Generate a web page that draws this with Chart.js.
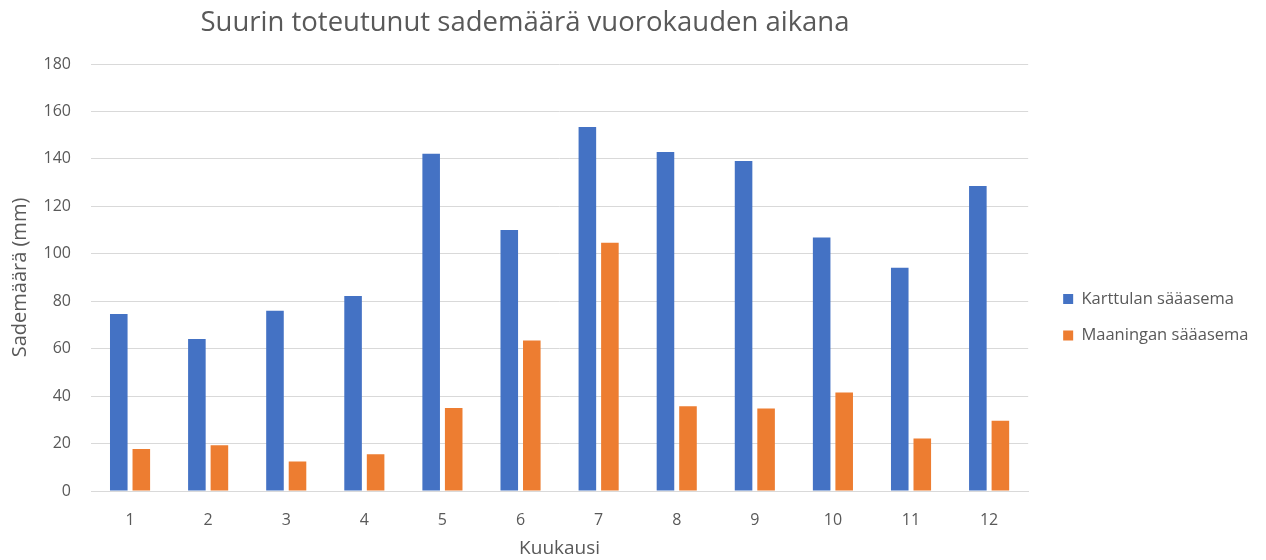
<!DOCTYPE html>
<html>
<head>
<meta charset="utf-8">
<script src="https://cdn.jsdelivr.net/npm/chart.js@4"></script>
<style>
    html, body { margin: 0; padding: 0; background: #fff; }
    #wrap { position: relative; width: 1266px; height: 560px; }
    #title {
        position: absolute; left: 0; top: 3px; width: 1050px;
        text-align: center; font-family: "Open Sans", sans-serif;
        font-size: 27.5px; line-height: 36px; color: #595959;
    }
</style>
</head>
<body>
<div id="wrap">
    <canvas id="chart" width="1266" height="560"></canvas>
    <div id="title">Suurin toteutunut sademäärä vuorokauden aikana</div>
</div>
<script>
var months = ['1', '2', '3', '4', '5', '6', '7', '8', '9', '10', '11', '12'];
var karttula = [74.6, 64.1, 76.0, 82.2, 142.2, 110.0, 153.4, 142.9, 139.1, 106.9, 94.1, 128.6];
var maaninka = [17.7, 19.3, 12.4, 15.5, 35.0, 63.4, 104.6, 35.7, 34.8, 41.5, 22.1, 29.6];
var seriesNames = ['Karttulan sääasema', 'Maaningan sääasema'];

var grey = '#595959';
var font = '"Open Sans", sans-serif';

new Chart(document.getElementById('chart'), {
    type: 'bar',
    data: {
        labels: months,
        datasets: [
            { label: seriesNames[0], data: karttula, backgroundColor: '#4472C4' },
            { label: seriesNames[1], data: maaninka, backgroundColor: '#ED7D31' }
        ]
    },
    options: {
        responsive: false,
        animation: false,
        layout: { padding: { top: 64, left: 4, right: 15, bottom: 0 } },
        datasets: { bar: { categoryPercentage: 0.577, barPercentage: 0.78 } },
        plugins: {
            legend: {
                position: 'right',
                // empty title only nudges the items down a little
                title: { display: true, text: '', font: { size: 2 }, padding: { top: 8, bottom: 0 } },
                labels: {
                    boxWidth: 10, boxHeight: 10, padding: 20,
                    color: grey, font: { family: font, size: 16.5 }
                }
            },
            tooltip: { enabled: false }
        },
        scales: {
            x: {
                grid: { display: false },
                border: { color: '#d9d9d9' },
                ticks: { color: grey, font: { family: font, size: 16 }, padding: 12 },
                title: { display: true, text: 'Kuukausi', color: grey, font: { family: font, size: 19 }, padding: { top: 0, bottom: 0 } },
                afterFit: function (scale) { scale.height = 69; }
            },
            y: {
                min: 0, max: 180,
                grid: { color: '#d9d9d9', drawTicks: false },
                border: { display: false },
                ticks: { stepSize: 20, color: grey, font: { family: font, size: 16 }, padding: 20 },
                title: { display: true, text: 'Sademäärä (mm)', color: grey, font: { family: font, size: 20 }, padding: { top: 4, bottom: 4 } },
                afterFit: function (scale) { scale.width = 87; }
            },
            // empty right-hand spacer between plot and legend
            gap: {
                type: 'linear', position: 'right', display: true,
                grid: { display: false }, border: { display: false },
                ticks: { display: false },
                afterFit: function (scale) { scale.width = 15; }
            }
        }
    }
});
</script>
</body>
</html>
